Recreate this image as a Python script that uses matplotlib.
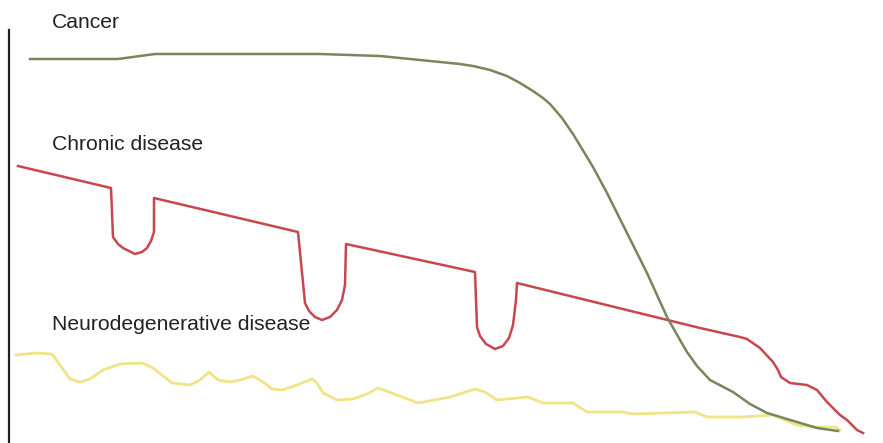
import matplotlib.pyplot as plt

plt.rcParams['font.family'] = ['Liberation Sans', 'DejaVu Sans']

#%% data (pixel-like units, y grows downward)
cancer_x = [30, 118, 155, 320, 380, 420, 440, 460, 473, 490, 507, 520, 533, 543, 550,
            562, 573, 593, 607, 627, 647, 667, 680, 687, 697, 710, 733, 750, 767,
            797, 817, 838]
cancer_y = [59, 59, 54, 54, 56, 60, 62, 64, 66, 70, 76, 83, 91, 98, 104,
            118, 134, 167, 193, 233, 273, 317, 340, 352, 366, 380, 392, 404, 413,
            422, 428, 431]

chronic_x = [18, 111, 113, 118, 123, 135, 142, 147, 151, 154, 154,
             298, 305, 309, 315, 322, 330, 337, 342, 345, 346,
             475, 477, 480, 486, 495, 503, 509, 513, 516, 517,
             700, 740, 747, 760, 773, 778, 781, 790, 807, 817, 827, 840, 847, 857, 863]
chronic_y = [166, 188, 237, 244, 248, 254, 252, 248, 241, 232, 198,
             232, 303, 311, 317, 320, 317, 310, 300, 285, 244,
             272, 327, 336, 344, 349, 346, 338, 325, 300, 283,
             328, 337, 339, 348, 362, 370, 377, 383, 385, 390, 402, 415, 420, 430, 433]

neuro_x = [16, 37, 52, 70, 80, 90, 103, 120, 142, 153, 172, 190, 200, 209, 218,
           230, 240, 253, 263, 272, 282, 297, 312, 317, 323, 337, 353, 367, 378,
           397, 418, 450, 475, 485, 497, 528, 543, 573, 587, 622, 633, 695, 707,
           743, 773, 797, 813, 835, 840]
neuro_y = [355, 353, 354, 379, 382, 379, 370, 364, 363, 368, 383, 385, 380, 372, 380,
           382, 380, 376, 382, 389, 390, 385, 379, 383, 393, 400, 399, 394, 388,
           395, 403, 397, 389, 392, 400, 397, 403, 403, 412, 412, 414, 412, 417,
           417, 415, 425, 427, 427, 430]

labels = ['Cancer', 'Chronic disease', 'Neurodegenerative disease']
label_y = [22, 145, 325]

#%% plot
fig = plt.figure(figsize=(8.83, 4.43), dpi=100)
ax = fig.add_axes([0, 0, 1, 1])
ax.set_xlim(0, 883)
ax.set_ylim(443, 0)

ax.plot(neuro_x, neuro_y, color='#f1e486', lw=2.0, solid_joinstyle='round')
ax.plot(chronic_x, chronic_y, color='#c8474f', lw=1.8, solid_joinstyle='round')
ax.plot(cancer_x, cancer_y, color='#76875a', lw=1.8, solid_joinstyle='round')

for txt, yy in zip(labels, label_y):
    ax.text(52, yy, txt, fontsize=15.2, color='#222222', va='center', ha='left')

for s in ['top', 'right', 'bottom']:
    ax.spines[s].set_visible(False)
ax.spines['left'].set_position(('data', 9))
ax.spines['left'].set_bounds(30, 443)
ax.spines['left'].set_linewidth(1.6)
ax.spines['left'].set_color('#222222')
ax.set_xticks([])
ax.set_yticks([])
ax.patch.set_alpha(0)

fig.savefig('out.png', dpi=100)
